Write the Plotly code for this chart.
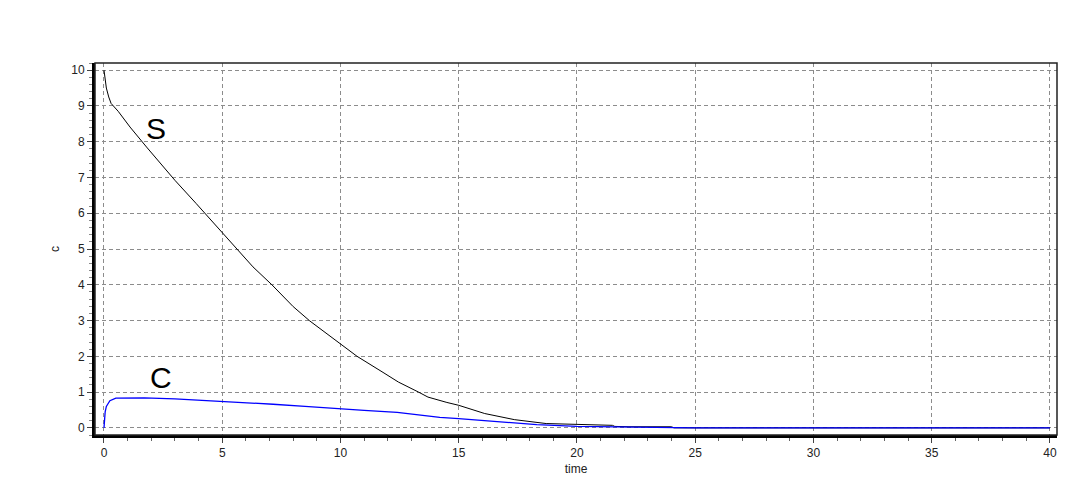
import plotly.graph_objects as go

# time points and concentrations
t_S = [0, 0.05, 0.1, 0.2, 0.3, 0.6, 1.1, 1.8, 3.0, 3.9, 5.0, 6.0, 6.3, 7.1, 8.0, 8.7,
       10.0, 10.7, 11.8, 12.45, 13.3, 13.7, 14.5, 15.0, 16.1, 17.35, 18.7, 20.0, 21.5,
       21.6, 22.2, 24.0, 24.1, 40.0]
S = [10.0, 9.7, 9.5, 9.25, 9.07, 8.85, 8.41, 7.85, 6.92, 6.27, 5.47, 4.73, 4.5, 4.0, 3.39, 2.99,
     2.34, 2.0, 1.55, 1.28, 1.0, 0.86, 0.71, 0.63, 0.40, 0.23, 0.12, 0.10, 0.07,
     0.04, 0.03, 0.03, 0.0, 0.0]

t_C = [0, 0.05, 0.1, 0.25, 0.5, 1.0, 1.7, 3.0, 4.2, 5.5, 7.15, 8.5, 9.66, 11.0, 12.4,
       14.2, 15.0, 16.3, 18.3, 20.0, 22.5, 25.0, 40.0]
C = [0.0, 0.45, 0.6, 0.76, 0.83, 0.84, 0.84, 0.81, 0.77, 0.72, 0.66, 0.60, 0.54, 0.49, 0.43,
     0.29, 0.26, 0.19, 0.09, 0.04, 0.01, 0.0, 0.0]

x_ticks = [0, 5, 10, 15, 20, 25, 30, 35, 40]
y_ticks = [0, 1, 2, 3, 4, 5, 6, 7, 8, 9, 10]

fig = go.Figure()
fig.add_trace(go.Scatter(x=t_S, y=S, mode="lines", line=dict(color="black", width=1), name="S"))
fig.add_trace(go.Scatter(x=t_C, y=C, mode="lines", line=dict(color="#0000ff", width=1.3), name="C"))

fig.add_annotation(x=2.2, y=8.38, text="S", showarrow=False, xref="x", yref="y",
                   font=dict(family="Liberation Sans, Arial", size=30, color="black"))
fig.add_annotation(x=2.4, y=1.42, text="C", showarrow=False, xref="x", yref="y",
                   font=dict(family="Liberation Sans, Arial", size=30, color="black"))

# thin frame on top/right
fig.add_shape(type="rect", xref="paper", yref="paper", x0=0, x1=1, y0=0, y1=1,
              line=dict(color="#222222", width=1.5), layer="above")

axis_font = dict(family="Liberation Sans, Arial", size=12, color="#222222")
fig.update_xaxes(range=[-0.38, 40.3], tickvals=x_ticks, ticks="outside", ticklen=5,
                 tickcolor="#444", showline=True, linecolor="black", linewidth=3,
                 showgrid=True, gridcolor="#8c8c8c", griddash="4px,3px", gridwidth=1,
                 zeroline=False, tickfont=axis_font, automargin=False,
                 minor=dict(dtick=1, ticks="outside", ticklen=3, tickcolor="#666", showgrid=False),
                 title=dict(text="time", font=axis_font, standoff=6))
fig.update_yaxes(range=[-0.2, 10.2], tickvals=y_ticks, ticks="outside", ticklen=5,
                 tickcolor="#444", showline=True, linecolor="black", linewidth=3,
                 showgrid=True, gridcolor="#8c8c8c", griddash="4px,3px", gridwidth=1,
                 zeroline=False, tickfont=axis_font, automargin=False,
                 minor=dict(dtick=0.2, ticks="outside", ticklen=3, tickcolor="#888", showgrid=False),
                 title=dict(text="c", font=axis_font, standoff=10))

fig.update_layout(width=1075, height=499, margin=dict(l=87, r=26, t=55, b=72),
                  plot_bgcolor="white", paper_bgcolor="white", showlegend=False)

fig.write_html("out.html")
